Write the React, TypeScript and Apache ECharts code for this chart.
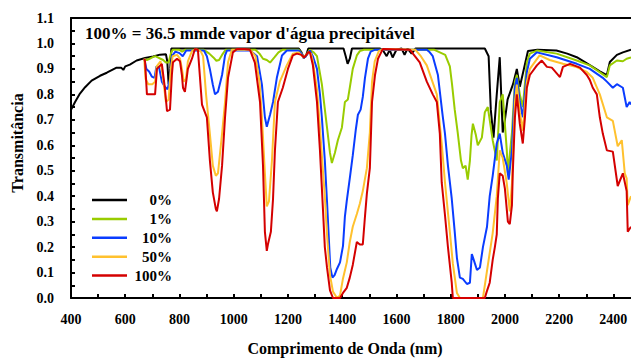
import React, { useEffect, useRef } from 'react';
import * as echarts from 'echarts';

const X_MIN = 400;
const X_MAX = 2465;
const Y_MIN = 0;
const Y_MAX = 1.1;

const TITLE = "100% = 36.5 mmde vapor d'água precipitável";
const X_NAME = 'Comprimento de Onda (nm)';
const Y_NAME = 'Transmitância';

const SERIES_NAMES = ['0%', '1%', '10%', '50%', '100%'];
const SERIES_COLORS = ['#000000', '#99cc00', '#0a3cff', '#ffc12e', '#d40000'];

const T_0 = [
  [400, 0.739], [415, 0.77], [433, 0.803], [452, 0.828], [476, 0.854], [507, 0.873], [532, 0.885],
  [568, 0.905], [585, 0.905], [593, 0.896], [600, 0.91], [617, 0.917], [642, 0.933], [673, 0.943],
  [703, 0.949], [728, 0.956], [750, 0.958], [755, 0.93], [760, 0.84], [766, 0.9], [770, 0.98],
  [1240, 0.98], [1250, 0.965], [1258, 0.943], [1266, 0.95], [1275, 0.98], [1405, 0.98], [1413, 0.95],
  [1420, 0.92], [1428, 0.94], [1436, 0.98], [1540, 0.98], [1549, 0.975], [1564, 0.95], [1575, 0.975],
  [1586, 0.945], [1600, 0.975], [1619, 0.98], [1630, 0.955], [1641, 0.98], [1656, 0.96], [1670, 0.98],
  [1926, 0.98], [1940, 0.95], [1948, 0.74], [1958, 0.63], [1970, 0.8], [1981, 0.946], [1992, 0.65],
  [2000, 0.7], [2010, 0.78], [2030, 0.84], [2044, 0.9], [2055, 0.83], [2070, 0.9], [2085, 0.97],
  [2120, 0.975], [2190, 0.972], [2230, 0.96], [2265, 0.946], [2313, 0.915], [2350, 0.89], [2376, 0.876],
  [2387, 0.927], [2413, 0.955], [2435, 0.965], [2465, 0.975],
];

const T_1 = [
  [670, 0.94], [680, 0.935], [690, 0.94], [700, 0.945], [710, 0.95], [720, 0.945], [730, 0.94],
  [740, 0.935], [750, 0.925], [760, 0.925], [768, 0.96], [775, 0.975], [800, 0.975], [810, 0.968],
  [820, 0.975], [890, 0.975], [910, 0.96], [925, 0.945], [936, 0.932], [946, 0.935], [957, 0.955],
  [970, 0.975], [1080, 0.975], [1095, 0.96], [1108, 0.94], [1122, 0.935], [1134, 0.925], [1150, 0.945],
  [1165, 0.965], [1180, 0.975], [1240, 0.975], [1250, 0.962], [1258, 0.945], [1266, 0.95], [1280, 0.975],
  [1295, 0.965], [1307, 0.95], [1325, 0.84], [1344, 0.67], [1355, 0.57], [1362, 0.53], [1373, 0.57],
  [1384, 0.62], [1399, 0.67], [1410, 0.77], [1421, 0.78], [1428, 0.826], [1439, 0.9], [1454, 0.953],
  [1465, 0.97], [1480, 0.975], [1740, 0.975], [1780, 0.955], [1797, 0.91], [1805, 0.84], [1815, 0.74],
  [1826, 0.65], [1838, 0.54], [1845, 0.51], [1855, 0.52], [1863, 0.465], [1871, 0.54], [1877, 0.64],
  [1882, 0.685], [1893, 0.64], [1900, 0.6], [1915, 0.63], [1926, 0.73], [1937, 0.75], [1944, 0.7],
  [1955, 0.62], [1970, 0.54], [1981, 0.77], [1992, 0.8], [2007, 0.58], [2011, 0.49], [2026, 0.65],
  [2037, 0.85], [2044, 0.876], [2055, 0.8], [2066, 0.75], [2081, 0.926], [2092, 0.96], [2118, 0.972],
  [2191, 0.96], [2265, 0.933], [2313, 0.914], [2376, 0.868], [2387, 0.914], [2413, 0.933], [2435, 0.93],
  [2449, 0.94], [2465, 0.945],
];

const T_10 = [
  [670, 0.94], [678, 0.9], [688, 0.89], [698, 0.87], [708, 0.865], [715, 0.91], [725, 0.905],
  [735, 0.85], [746, 0.83], [756, 0.82], [765, 0.86], [772, 0.95], [785, 0.968], [800, 0.962],
  [812, 0.95], [825, 0.972], [890, 0.972], [901, 0.95], [912, 0.9], [923, 0.838], [931, 0.8],
  [942, 0.81], [957, 0.876], [968, 0.953], [975, 0.972], [1060, 0.972], [1086, 0.95], [1104, 0.838],
  [1115, 0.71], [1122, 0.673], [1134, 0.72], [1145, 0.77], [1159, 0.865], [1178, 0.953], [1196, 0.972],
  [1240, 0.972], [1250, 0.96], [1258, 0.943], [1266, 0.95], [1281, 0.972], [1292, 0.95], [1307, 0.9],
  [1318, 0.8], [1325, 0.71], [1336, 0.54], [1344, 0.38], [1350, 0.25], [1356, 0.12], [1364, 0.08],
  [1372, 0.09], [1381, 0.115], [1392, 0.14], [1403, 0.205], [1410, 0.32], [1417, 0.383], [1428, 0.47],
  [1439, 0.56], [1450, 0.66], [1458, 0.72], [1468, 0.74], [1476, 0.79], [1484, 0.865], [1495, 0.94],
  [1505, 0.968], [1520, 0.975], [1712, 0.975], [1723, 0.965], [1734, 0.95], [1753, 0.876], [1770, 0.72],
  [1779, 0.646], [1790, 0.52], [1804, 0.39], [1815, 0.26], [1823, 0.158], [1834, 0.08], [1845, 0.075],
  [1860, 0.055], [1871, 0.06], [1878, 0.173], [1886, 0.147], [1897, 0.11], [1908, 0.12], [1919, 0.2],
  [1934, 0.28], [1944, 0.4], [1955, 0.48], [1970, 0.607], [1981, 0.646], [1992, 0.57], [2007, 0.52],
  [2014, 0.465], [2026, 0.58], [2037, 0.826], [2044, 0.865], [2055, 0.77], [2066, 0.71], [2081, 0.888],
  [2092, 0.94], [2118, 0.965], [2191, 0.946], [2265, 0.92], [2313, 0.9], [2361, 0.865], [2376, 0.85],
  [2398, 0.826], [2413, 0.84], [2435, 0.826], [2449, 0.75], [2460, 0.77], [2465, 0.76],
];

const T_50 = [
  [670, 0.94], [675, 0.86], [685, 0.84], [700, 0.84], [710, 0.85], [716, 0.91], [730, 0.93],
  [740, 0.86], [750, 0.77], [760, 0.78], [768, 0.9], [775, 0.95], [791, 0.955], [802, 0.94],
  [809, 0.9], [816, 0.85], [824, 0.86], [831, 0.93], [846, 0.97], [860, 0.978], [878, 0.97],
  [887, 0.95], [898, 0.8], [912, 0.646], [923, 0.52], [934, 0.48], [942, 0.49], [957, 0.646],
  [968, 0.77], [979, 0.926], [993, 0.975], [1060, 0.975], [1080, 0.95], [1095, 0.85], [1104, 0.71],
  [1115, 0.49], [1122, 0.36], [1130, 0.38], [1141, 0.54], [1152, 0.77], [1170, 0.85], [1196, 0.915],
  [1218, 0.96], [1240, 0.965], [1258, 0.945], [1275, 0.965], [1285, 0.96], [1292, 0.93], [1307, 0.82],
  [1318, 0.67], [1329, 0.5], [1336, 0.4], [1344, 0.25], [1355, 0.09], [1366, 0.025], [1381, 0.0],
  [1392, 0.01], [1403, 0.077], [1417, 0.14], [1428, 0.22], [1439, 0.28], [1454, 0.33], [1465, 0.37],
  [1476, 0.42], [1491, 0.51], [1502, 0.65], [1510, 0.85], [1520, 0.93], [1535, 0.97], [1550, 0.978],
  [1670, 0.975], [1690, 0.95], [1712, 0.914], [1749, 0.8], [1767, 0.607], [1779, 0.454], [1797, 0.26],
  [1808, 0.136], [1823, 0.02], [1834, 0.0], [1919, 0.0], [1937, 0.128], [1955, 0.255], [1970, 0.4],
  [1981, 0.58], [1992, 0.55], [2007, 0.45], [2018, 0.34], [2026, 0.45], [2037, 0.77], [2044, 0.838],
  [2055, 0.73], [2066, 0.657], [2081, 0.85], [2092, 0.9], [2128, 0.953], [2165, 0.935], [2214, 0.92],
  [2265, 0.907], [2302, 0.888], [2324, 0.865], [2350, 0.8], [2376, 0.71], [2398, 0.696], [2416, 0.596],
  [2431, 0.62], [2442, 0.49], [2449, 0.47], [2453, 0.365], [2465, 0.4],
];

const T_100 = [
  [670, 0.94], [673, 0.93], [680, 0.8], [710, 0.8], [717, 0.9], [735, 0.92], [746, 0.826],
  [754, 0.734], [765, 0.74], [772, 0.876], [776, 0.926], [791, 0.94], [802, 0.93], [809, 0.876],
  [813, 0.826], [820, 0.81], [831, 0.9], [846, 0.94], [857, 0.978], [868, 0.975], [883, 0.76],
  [901, 0.71], [912, 0.542], [923, 0.415], [934, 0.35], [938, 0.34], [946, 0.39], [957, 0.52],
  [968, 0.71], [979, 0.865], [997, 0.965], [1012, 0.978], [1040, 0.978], [1060, 0.975], [1078, 0.925],
  [1097, 0.77], [1108, 0.52], [1115, 0.26], [1122, 0.185], [1126, 0.21], [1137, 0.26], [1145, 0.39],
  [1152, 0.58], [1163, 0.77], [1181, 0.826], [1200, 0.9], [1218, 0.953], [1233, 0.96], [1250, 0.955],
  [1260, 0.945], [1275, 0.965], [1281, 0.965], [1292, 0.914], [1307, 0.77], [1318, 0.58], [1329, 0.35],
  [1336, 0.2], [1344, 0.12], [1355, 0.03], [1366, 0.0], [1392, 0.0], [1403, 0.02], [1417, 0.04],
  [1428, 0.08], [1439, 0.13], [1454, 0.22], [1465, 0.21], [1476, 0.21], [1484, 0.32], [1491, 0.41],
  [1502, 0.51], [1510, 0.77], [1521, 0.876], [1532, 0.94], [1546, 0.97], [1550, 0.978], [1650, 0.975],
  [1686, 0.926], [1712, 0.85], [1734, 0.8], [1749, 0.77], [1760, 0.646], [1767, 0.454], [1779, 0.326],
  [1790, 0.2], [1804, 0.06], [1808, 0.0], [1926, 0.0], [1933, 0.025], [1944, 0.06], [1955, 0.15],
  [1963, 0.2], [1970, 0.25], [1974, 0.39], [1981, 0.49], [1992, 0.48], [2000, 0.43], [2011, 0.3],
  [2018, 0.29], [2026, 0.365], [2029, 0.49], [2037, 0.71], [2044, 0.8], [2055, 0.684], [2066, 0.607],
  [2074, 0.71], [2081, 0.826], [2092, 0.876], [2118, 0.914], [2136, 0.933], [2155, 0.908], [2173, 0.905],
  [2203, 0.868], [2214, 0.908], [2240, 0.92], [2277, 0.905], [2302, 0.876], [2313, 0.857], [2324, 0.826],
  [2339, 0.8], [2350, 0.71], [2361, 0.646], [2376, 0.58], [2398, 0.575], [2416, 0.44], [2435, 0.49],
  [2449, 0.42], [2453, 0.26], [2465, 0.28],
];

const SERIES_DATA = [T_0, T_1, T_10, T_50, T_100];

const FONT = "'Liberation Serif', 'Times New Roman', serif";

export default function App() {
  const ref = useRef<HTMLDivElement>(null);

  useEffect(() => {
    if (!ref.current) return;
    const chart = echarts.init(ref.current, null, { renderer: 'svg' });

    const legendGraphics: any[] = [];
    SERIES_NAMES.forEach((name, i) => {
      const y = 200 + i * 18.9;
      legendGraphics.push({
        type: 'line',
        shape: { x1: 92, y1: y, x2: 127, y2: y },
        style: { stroke: SERIES_COLORS[i], lineWidth: 2.5 },
      });
      legendGraphics.push({
        type: 'text',
        x: 172,
        y: y,
        style: {
          text: name,
          textAlign: 'right',
          textVerticalAlign: 'middle',
          font: `bold 15px ${FONT}`,
          fill: '#000',
        },
      });
    });

    const axisLabelStyle = {
      color: '#000',
      fontFamily: FONT,
      fontWeight: 'bold' as const,
      fontSize: 14,
    };

    chart.setOption({
      animation: false,
      backgroundColor: '#ffffff',
      grid: { left: 71, right: 0, top: 18, bottom: 58, containLabel: false },
      xAxis: [
        {
          type: 'value',
          min: X_MIN,
          max: X_MAX,
          interval: 100,
          position: 'bottom',
          name: X_NAME,
          nameLocation: 'middle',
          nameGap: 42,
          nameTextStyle: {
            color: '#000',
            fontFamily: FONT,
            fontWeight: 'bold',
            fontSize: 16,
            padding: [0, 12, 0, 0],
          },
          axisLine: { show: true, lineStyle: { color: '#000', width: 2 } },
          axisTick: { show: true, inside: true, length: 4, lineStyle: { color: '#000', width: 2 } },
          axisLabel: {
            ...axisLabelStyle,
            margin: 14,
            showMaxLabel: false,
            formatter: (v: number) => (Math.round(v) % 200 === 0 ? String(Math.round(v)) : ''),
          },
          splitLine: { show: false },
        },
        {
          type: 'value',
          min: X_MIN,
          max: X_MAX,
          position: 'top',
          axisLine: { show: true, lineStyle: { color: '#000', width: 2 } },
          axisTick: { show: false },
          axisLabel: { show: false },
          splitLine: { show: false },
        },
      ],
      yAxis: {
        type: 'value',
        min: Y_MIN,
        max: Y_MAX,
        interval: 0.05,
        name: Y_NAME,
        nameLocation: 'middle',
        nameGap: 45,
        nameTextStyle: {
          color: '#000',
          fontFamily: FONT,
          fontWeight: 'bold',
          fontSize: 16,
          padding: [0, 0, 0, 30],
        },
        axisLine: { show: true, lineStyle: { color: '#000', width: 2 } },
        axisTick: { show: true, inside: true, length: 4, lineStyle: { color: '#000', width: 2 } },
        axisLabel: {
          ...axisLabelStyle,
          margin: 17,
          formatter: (v: number) => (Math.round(v * 100) % 10 === 0 ? v.toFixed(1) : ''),
        },
        splitLine: { show: false },
      },
      series: SERIES_NAMES.map((name, i) => ({
        name,
        type: 'line',
        xAxisIndex: 0,
        data: SERIES_DATA[i],
        symbol: 'none',
        showSymbol: false,
        lineStyle: { color: SERIES_COLORS[i], width: 2 },
        itemStyle: { color: SERIES_COLORS[i] },
        z: 2 + i,
      })),
      graphic: [
        {
          type: 'text',
          x: 85,
          y: 33,
          style: {
            text: TITLE,
            textVerticalAlign: 'middle',
            font: `bold 17px ${FONT}`,
            fill: '#000',
          },
          z: 100,
        },
        ...legendGraphics,
      ],
    });

    return () => chart.dispose();
  }, []);

  return (
    <div
      ref={ref}
      style={{ position: 'fixed', left: 0, top: 0, width: 631, height: 361, background: '#fff' }}
    />
  );
}
